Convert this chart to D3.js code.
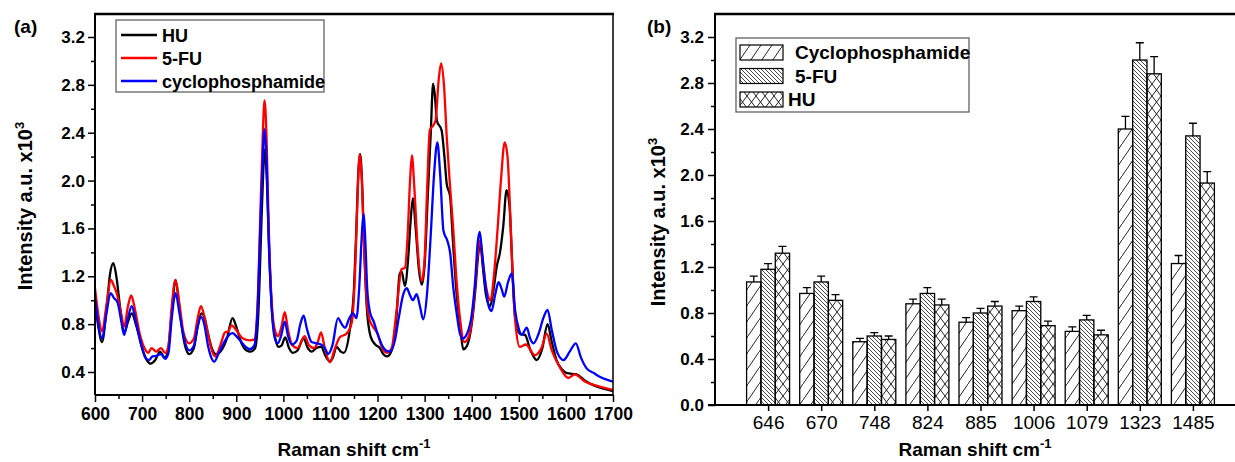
<!DOCTYPE html>
<html>
<head>
<meta charset="utf-8">
<script src="https://cdn.jsdelivr.net/npm/d3@7"></script>
<style>
body { margin: 0; background: #fff; }
svg text { font-family: "Liberation Sans", Arial, sans-serif; }
</style>
</head>
<body>
<svg id="chart" width="1235" height="462"></svg>
<script>
// ---- panel (a): Raman spectra ----
var huShift = [600,607,615,625,632,639,646,653,662,670,678,688,700,710,718,728,738,748,755,763,771,779,788,800,810,818,826,832,840,848,857,868,880,892,900,911,922,930,940,947,953,957,961,965,970,976,983,990,996,1004,1012,1020,1030,1043,1052,1060,1070,1080,1090,1099,1105,1113,1122,1128,1141,1150,1155,1159,1163,1167,1172,1177,1185,1195,1205,1212,1220,1230,1240,1247,1251,1258,1265,1270,1275,1281,1288,1294,1300,1307,1313,1318,1322,1326,1336,1342,1347,1354,1360,1368,1375,1382,1390,1400,1408,1413,1418,1423,1430,1439,1446,1453,1460,1467,1474,1480,1486,1492,1502,1513,1525,1538,1550,1561,1570,1580,1592,1602,1623,1640,1658,1680,1700];
var huInt   = [1.00,0.78,0.65,0.95,1.22,1.31,1.18,0.95,0.73,0.82,0.89,0.78,0.60,0.50,0.47,0.50,0.57,0.52,0.58,0.90,1.17,0.95,0.68,0.55,0.60,0.78,0.89,0.86,0.72,0.60,0.55,0.58,0.68,0.85,0.78,0.64,0.58,0.57,0.60,0.90,1.60,2.05,2.26,2.00,1.40,0.90,0.68,0.61,0.62,0.69,0.60,0.56,0.58,0.68,0.60,0.57,0.60,0.61,0.53,0.49,0.52,0.61,0.57,0.56,0.75,1.10,1.60,2.05,2.22,2.00,1.40,0.95,0.70,0.63,0.60,0.55,0.53,0.58,0.85,1.22,1.24,1.12,1.35,1.65,1.85,1.60,1.25,1.13,1.30,1.90,2.40,2.81,2.70,2.50,2.42,2.20,1.97,1.87,1.50,1.05,0.80,0.59,0.62,0.80,1.10,1.35,1.48,1.30,1.05,0.95,1.08,1.28,1.40,1.62,1.92,1.80,1.30,0.86,0.72,0.71,0.58,0.50,0.60,0.80,0.65,0.50,0.42,0.39,0.38,0.33,0.29,0.26,0.24];

var fuShift = [600,607,615,624,634,640,646,654,662,670,677,685,695,705,713,720,730,740,749,756,763,771,779,788,800,810,818,825,833,842,850,856,866,876,883,890,900,911,920,929,938,945,951,956,960,964,969,975,982,989,996,1003,1010,1018,1030,1045,1055,1065,1073,1080,1088,1099,1108,1120,1134,1145,1152,1157,1162,1166,1171,1176,1182,1190,1200,1210,1220,1230,1240,1251,1258,1264,1269,1273,1278,1285,1294,1300,1305,1311,1316,1323,1330,1335,1341,1347,1354,1361,1368,1375,1384,1392,1400,1408,1413,1418,1424,1431,1440,1447,1455,1462,1470,1476,1482,1488,1493,1502,1515,1534,1548,1559,1570,1587,1605,1619,1640,1670,1700];
var fuInt   = [1.10,0.88,0.74,0.95,1.17,1.12,1.06,0.92,0.78,0.95,1.04,0.92,0.72,0.60,0.56,0.60,0.57,0.60,0.56,0.62,0.95,1.17,0.98,0.73,0.64,0.68,0.85,0.95,0.85,0.68,0.56,0.53,0.62,0.73,0.74,0.79,0.75,0.69,0.67,0.665,0.67,0.95,1.70,2.35,2.67,2.40,1.60,1.00,0.75,0.70,0.78,0.90,0.75,0.63,0.60,0.70,0.62,0.60,0.65,0.73,0.60,0.48,0.58,0.69,0.72,0.81,1.20,1.80,2.22,2.05,1.50,1.05,0.85,0.78,0.72,0.60,0.56,0.60,0.90,1.26,1.27,1.55,2.00,2.21,1.95,1.45,1.16,1.35,1.90,2.42,2.45,2.50,2.85,2.98,2.80,2.36,1.95,1.58,1.15,0.85,0.65,0.68,0.82,1.15,1.40,1.50,1.30,1.10,1.00,1.20,1.60,2.00,2.32,2.20,1.70,1.10,0.80,0.61,0.63,0.54,0.60,0.72,0.58,0.44,0.35,0.38,0.32,0.28,0.25];

var cyShift = [600,607,615,624,633,640,648,656,662,670,678,687,697,707,715,722,730,740,749,756,763,771,779,788,800,810,818,825,832,840,847,853,862,876,885,892,900,911,920,929,938,945,951,956,960,964,969,975,982,988,995,1003,1010,1018,1028,1036,1043,1050,1060,1070,1080,1088,1095,1104,1116,1124,1131,1140,1148,1155,1161,1166,1170,1174,1178,1184,1192,1200,1210,1218,1226,1236,1245,1254,1262,1268,1275,1283,1290,1297,1305,1313,1320,1327,1333,1340,1348,1354,1361,1368,1375,1381,1390,1400,1408,1412,1417,1422,1430,1436,1442,1450,1457,1463,1469,1477,1485,1492,1500,1506,1517,1524,1531,1542,1552,1561,1570,1582,1595,1608,1621,1632,1644,1660,1672,1700];
var cyInt   = [1.03,0.80,0.68,0.88,1.06,1.02,0.98,0.82,0.71,0.85,0.95,0.82,0.65,0.52,0.50,0.53,0.535,0.55,0.51,0.56,0.85,1.06,0.90,0.70,0.58,0.62,0.78,0.86,0.80,0.62,0.52,0.486,0.55,0.66,0.71,0.725,0.70,0.65,0.61,0.59,0.62,0.90,1.60,2.15,2.43,2.20,1.50,0.95,0.68,0.64,0.70,0.82,0.70,0.63,0.66,0.80,0.87,0.76,0.65,0.64,0.63,0.60,0.55,0.62,0.85,0.80,0.77,0.85,0.89,0.85,1.10,1.50,1.72,1.50,1.10,0.90,0.82,0.72,0.62,0.58,0.57,0.65,0.85,1.04,1.10,1.05,1.00,1.05,0.95,0.84,1.05,1.55,2.05,2.32,2.05,1.58,1.50,1.40,1.10,0.89,0.72,0.68,0.72,0.88,1.20,1.45,1.57,1.40,1.10,0.95,0.91,1.05,1.15,1.10,1.03,1.15,1.225,0.92,0.76,0.71,0.77,0.68,0.64,0.72,0.85,0.92,0.75,0.56,0.50,0.57,0.64,0.52,0.43,0.39,0.36,0.32];

var specNames = ["HU", "5-FU", "cyclophosphamide"];
var specColors = ["#000000", "#ff0000", "#0000ff"];

// ---- panel (b): band intensities with error bars ----
var bandLabels = ["646","670","748","824","885","1006","1079","1323","1485"];
var barNames = ["Cyclophosphamide", "5-FU", "HU"];
var cycloVals = [1.07,0.97,0.55,0.88,0.72,0.82,0.64,2.40,1.23];
var cycloErr  = [0.05,0.05,0.03,0.04,0.04,0.04,0.04,0.11,0.07];
var fuVals    = [1.18,1.07,0.60,0.97,0.80,0.90,0.74,3.00,2.34];
var fuErr     = [0.05,0.05,0.03,0.05,0.04,0.04,0.04,0.15,0.11];
var huVals    = [1.32,0.91,0.57,0.87,0.86,0.69,0.61,2.88,1.93];
var huErr     = [0.06,0.05,0.03,0.05,0.04,0.04,0.04,0.15,0.10];

var svg = d3.select("#chart");

var defs = svg.append("defs");
// forward hatch
defs.append("pattern").attr("id", "patCy").attr("patternUnits", "userSpaceOnUse")
    .attr("width", 11).attr("height", 16)
    .append("path").attr("d", "M0,16 L11,0 M-2,2 L1,-2 M10,18 L13,14")
    .attr("stroke", "#222").attr("stroke-width", 1).attr("fill", "none");
// dense back hatch
defs.append("pattern").attr("id", "patFu").attr("patternUnits", "userSpaceOnUse")
    .attr("width", 4).attr("height", 4)
    .append("path").attr("d", "M0,0 L4,4 M-1,3 L1,5 M3,-1 L5,1")
    .attr("stroke", "#333").attr("stroke-width", 0.9).attr("fill", "none");
// cross hatch
defs.append("pattern").attr("id", "patHu").attr("patternUnits", "userSpaceOnUse")
    .attr("width", 9).attr("height", 12)
    .append("path").attr("d", "M0,0 L9,12 M0,12 L9,0")
    .attr("stroke", "#222").attr("stroke-width", 1).attr("fill", "none");
var barFills = ["url(#patCy)", "url(#patFu)", "url(#patHu)"];

// ================= panel (a) =================
var A = {left: 95, right: 613, top: 14, bottom: 395};
var xA = d3.scaleLinear().domain([600, 1700]).range([A.left, A.right]);
var yA = d3.scaleLinear().domain([0.4, 3.2]).range([372, 37]);

defs.append("clipPath").attr("id", "clipA").append("rect")
    .attr("x", A.left).attr("y", A.top).attr("width", A.right - A.left).attr("height", A.bottom - A.top);

var gA = svg.append("g");

var yAxA = gA.append("g").attr("transform", "translate(" + A.left + ",0)")
    .call(d3.axisLeft(yA).tickValues([0.4,0.8,1.2,1.6,2.0,2.4,2.8,3.2]).tickFormat(d3.format(".1f")).tickSize(7).tickSizeOuter(0).tickPadding(3));
yAxA.select(".domain").remove();
yAxA.selectAll("text").attr("font-size", 17).attr("font-weight", "bold").attr("fill", "#000");
gA.append("g").attr("transform", "translate(" + A.left + ",0)")
    .call(d3.axisLeft(yA).tickValues([0.6,1.0,1.4,1.8,2.2,2.6,3.0]).tickFormat("").tickSize(4).tickSizeOuter(0))
    .select(".domain").remove();

var xAxA = gA.append("g").attr("transform", "translate(0," + A.bottom + ")")
    .call(d3.axisBottom(xA).tickValues(d3.range(600, 1701, 100)).tickFormat(d3.format("d")).tickSize(7).tickSizeOuter(0).tickPadding(6));
xAxA.select(".domain").remove();
xAxA.selectAll("text").attr("font-size", 17.5).attr("font-weight", "bold").attr("fill", "#000");
gA.append("g").attr("transform", "translate(0," + A.bottom + ")")
    .call(d3.axisBottom(xA).tickValues(d3.range(650, 1700, 100)).tickFormat("").tickSize(4).tickSizeOuter(0))
    .select(".domain").remove();
gA.selectAll(".tick line").attr("stroke-width", 1.5);

var lineA = d3.line().x(function(d) { return xA(d[0]); }).y(function(d) { return yA(d[1]); })
    .curve(d3.curveMonotoneX);
var specData = [d3.zip(huShift, huInt), d3.zip(fuShift, fuInt), d3.zip(cyShift, cyInt)];
gA.append("g").attr("clip-path", "url(#clipA)")
    .selectAll("path").data(specData).enter().append("path")
    .attr("d", lineA)
    .attr("fill", "none")
    .attr("stroke", function(d, i) { return specColors[i]; })
    .attr("stroke-width", 2.3)
    .attr("stroke-linejoin", "round");

// frame
gA.append("line").attr("x1", A.left).attr("x2", A.left).attr("y1", A.top).attr("y2", A.bottom).attr("stroke", "#000").attr("stroke-width", 2);
gA.append("line").attr("x1", A.left).attr("x2", A.right).attr("y1", A.bottom).attr("y2", A.bottom).attr("stroke", "#000").attr("stroke-width", 2);
gA.append("line").attr("x1", A.left - 1).attr("x2", A.right + 1).attr("y1", A.top).attr("y2", A.top).attr("stroke", "#000").attr("stroke-width", 2.5);
gA.append("line").attr("x1", A.right).attr("x2", A.right).attr("y1", A.top).attr("y2", A.bottom).attr("stroke", "#000").attr("stroke-width", 1.5);

// legend (a)
var legA = gA.append("g");
legA.append("rect").attr("x", 116).attr("y", 20).attr("width", 208).attr("height", 72)
    .attr("fill", "#fff").attr("stroke", "#555").attr("stroke-width", 1.2);
specNames.forEach(function(n, i) {
    var yy = 35 + i * 23;
    legA.append("line").attr("x1", 121).attr("x2", 157).attr("y1", yy).attr("y2", yy)
        .attr("stroke", specColors[i]).attr("stroke-width", 2.5);
    legA.append("text").attr("x", 162).attr("y", yy + 6.5).attr("font-size", 18)
        .attr("font-weight", "bold").text(n);
});

gA.append("text").attr("x", 14).attr("y", 33).attr("font-size", 19).attr("font-weight", "bold").text("(a)");

var ytA = gA.append("text").attr("transform", "translate(32,206) rotate(-90)")
    .attr("text-anchor", "middle").attr("font-size", 20).attr("font-weight", "bold");
ytA.append("tspan").text("Intensity a.u. x10");
ytA.append("tspan").attr("dy", -8).attr("font-size", 13).text("3");

var xtA = gA.append("text").attr("x", 354).attr("y", 456).attr("text-anchor", "middle")
    .attr("font-size", 19).attr("font-weight", "bold");
xtA.append("tspan").text("Raman shift cm");
xtA.append("tspan").attr("dy", -8).attr("font-size", 13).text("-1");

// ================= panel (b) =================
var B = {left: 715, right: 1236, top: 14, bottom: 405};
var xB = d3.scalePoint().domain(bandLabels).range([715, 1246]).padding(1);
var yB = d3.scaleLinear().domain([0, 3.4]).range([B.bottom, B.top]);
var gB = svg.append("g");

var yAxB = gB.append("g").attr("transform", "translate(" + B.left + ",0)")
    .call(d3.axisLeft(yB).tickValues(d3.range(0, 3.3, 0.4)).tickFormat(d3.format(".1f")).tickSize(7).tickSizeOuter(0).tickPadding(4));
yAxB.select(".domain").remove();
yAxB.selectAll("text").attr("font-size", 17).attr("font-weight", "bold").attr("fill", "#000");
gB.append("g").attr("transform", "translate(" + B.left + ",0)")
    .call(d3.axisLeft(yB).tickValues([0.2,0.6,1.0,1.4,1.8,2.2,2.6,3.0]).tickFormat("").tickSize(4).tickSizeOuter(0))
    .select(".domain").remove();

var xAxB = gB.append("g").attr("transform", "translate(0," + B.bottom + ")")
    .call(d3.axisBottom(xB).tickSize(6).tickSizeOuter(0).tickPadding(5));
xAxB.select(".domain").remove();
xAxB.selectAll("text").attr("font-size", 19).attr("fill", "#000");
gB.selectAll(".tick line").attr("stroke-width", 1.5);

var barVals = [cycloVals, fuVals, huVals];
var barErrs = [cycloErr, fuErr, huErr];
var groupW = 43, barW = groupW / 3;
barVals.forEach(function(vals, k) {
    var rows = bandLabels.map(function(c, i) { return {c: c, v: vals[i], e: barErrs[k][i]}; });
    var gs = gB.append("g");
    gs.selectAll("rect").data(rows).enter().append("rect")
        .attr("x", function(d) { return xB(d.c) - groupW / 2 + k * barW; })
        .attr("y", function(d) { return yB(d.v); })
        .attr("width", barW)
        .attr("height", function(d) { return yB(0) - yB(d.v); })
        .attr("fill", barFills[k])
        .attr("stroke", "#000").attr("stroke-width", 1.3);
    gs.selectAll("path.err").data(rows).enter().append("path").attr("class", "err")
        .attr("d", function(d) {
            var cx = xB(d.c) - groupW / 2 + (k + 0.5) * barW;
            var y0 = yB(d.v), y1 = yB(d.v + d.e);
            return "M" + cx + "," + y0 + "V" + y1 + "M" + (cx - 4) + "," + y1 + "H" + (cx + 4);
        })
        .attr("stroke", "#000").attr("stroke-width", 1.3).attr("fill", "none");
});

gB.append("line").attr("x1", B.left).attr("x2", B.left).attr("y1", B.top).attr("y2", B.bottom).attr("stroke", "#000").attr("stroke-width", 2);
gB.append("line").attr("x1", 708).attr("x2", B.right).attr("y1", B.bottom).attr("y2", B.bottom).attr("stroke", "#000").attr("stroke-width", 2);
gB.append("line").attr("x1", B.left - 1).attr("x2", B.right).attr("y1", B.top).attr("y2", B.top).attr("stroke", "#000").attr("stroke-width", 2.5);

// legend (b)
var legB = gB.append("g");
legB.append("rect").attr("x", 736).attr("y", 38).attr("width", 233).attr("height", 74)
    .attr("fill", "#fff").attr("stroke", "#555").attr("stroke-width", 1.2);
barNames.forEach(function(n, i) {
    var yy = 45 + i * 23.5;
    legB.append("rect").attr("x", 740).attr("y", yy).attr("width", 43).attr("height", 15)
        .attr("fill", barFills[i]).attr("stroke", "#000").attr("stroke-width", 1.2);
    legB.append("text").attr("x", i === 2 ? 788 : 795).attr("y", yy + 14).attr("font-size", 19)
        .attr("font-weight", "bold").text(n);
});

gB.append("text").attr("x", 647).attr("y", 33).attr("font-size", 19).attr("font-weight", "bold").text("(b)");

var ytB = gB.append("text").attr("transform", "translate(665,222) rotate(-90)")
    .attr("text-anchor", "middle").attr("font-size", 20).attr("font-weight", "bold");
ytB.append("tspan").text("Intensity a.u. x10");
ytB.append("tspan").attr("dy", -8).attr("font-size", 13).text("3");

var xtB = gB.append("text").attr("x", 975).attr("y", 456).attr("text-anchor", "middle")
    .attr("font-size", 19).attr("font-weight", "bold");
xtB.append("tspan").text("Raman shift cm");
xtB.append("tspan").attr("dy", -8).attr("font-size", 13).text("-1");
</script>
</body>
</html>
